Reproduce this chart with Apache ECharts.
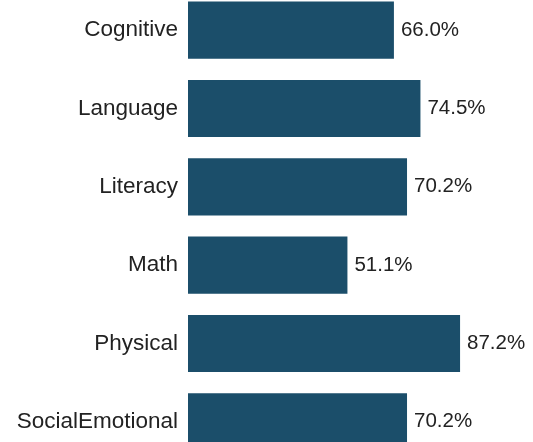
<!DOCTYPE html>
<html>
<head>
<meta charset="utf-8">
<script src="https://cdn.jsdelivr.net/npm/echarts@6/dist/echarts.min.js"></script>
<style>
  html, body { margin: 0; padding: 0; background: #fff; }
  #chart { width: 533px; height: 442px; }
</style>
</head>
<body>
<div id="chart"></div>
<script>
// Domain names, top to bottom
const domains = ['Cognitive', 'Language', 'Literacy', 'Math', 'Physical', 'SocialEmotional'];
// Share of children meeting expectations (%)
const percentMeeting = [66.0, 74.5, 70.2, 51.1, 87.2, 70.2];

const chart = echarts.init(document.getElementById('chart'), null, { renderer: 'canvas' });

chart.setOption({
  backgroundColor: '#ffffff',
  animation: false,
  grid: { left: 188, width: 312, top: -9, height: 470, outerBoundsMode: 'none', containLabel: false },
  xAxis: {
    type: 'value',
    min: 0,
    max: 100,
    show: false
  },
  yAxis: {
    type: 'category',
    data: domains,
    inverse: true,
    axisLine: { show: false },
    axisTick: { show: false },
    axisLabel: {
      margin: 10,
      color: '#222222',
      fontFamily: 'Liberation Sans, Arial, sans-serif',
      fontSize: 22.5
    }
  },
  series: [{
    type: 'bar',
    data: percentMeeting,
    barCategoryGap: '27%',
    itemStyle: { color: '#1b4e6a' },
    label: {
      show: true,
      position: 'right',
      distance: 7,
      color: '#222222',
      fontFamily: 'Liberation Sans, Arial, sans-serif',
      fontSize: 20.5,
      formatter: p => p.value.toFixed(1) + '%'
    }
  }]
});
</script>
</body>
</html>
